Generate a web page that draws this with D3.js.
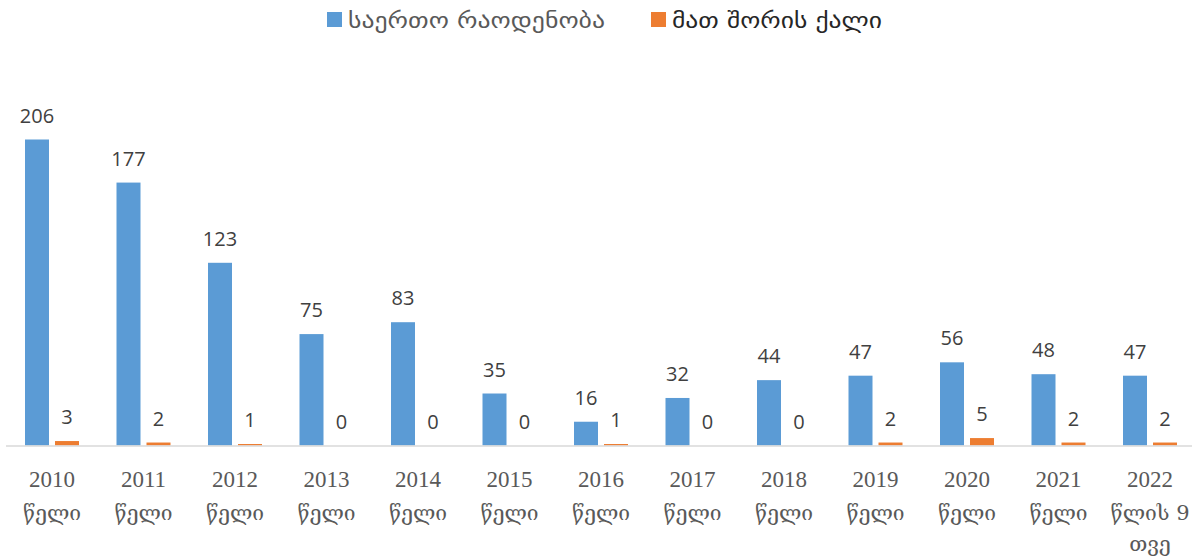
<!DOCTYPE html>
<html><head><meta charset="utf-8">
<script src="https://cdn.jsdelivr.net/npm/d3@7"></script>
<style>body{margin:0;background:#fff}svg{display:block}</style>
</head><body><svg id="c" width="1192" height="557"></svg>
<script>
const categories = ["2010","2011","2012","2013","2014","2015","2016","2017","2018","2019","2020","2021","2022"];
const catLine2 = ["წელი","წელი","წელი","წელი","წელი","წელი","წელი","წელი","წელი","წელი","წელი","წელი","წლის 9"];
const catLine3 = ["","","","","","","","","","","","","თვე"];
const totalValues = [206,177,123,75,83,35,16,32,44,47,56,48,47];
const womenValues = [3,2,1,0,0,0,1,0,0,2,5,2,2];
const seriesNames = ["საერთო რაოდენობა","მათ შორის ქალი"];
const colors = ["#5B9BD5","#ED7D31"];

const svg = d3.select("#c");
const x = d3.scaleBand().domain(categories).range([6.25, 1195.75]).paddingInner(0).paddingOuter(0);
const sub = d3.scaleBand().domain([0,1]).range([18.75, 91.5-18.75]).paddingInner(0.2);
const y = d3.scaleLinear().domain([0, 206]).range([445.5, 139.5]);

const series = [totalValues, womenValues];
series.forEach((vals, si) => {
  const g = svg.append("g");
  g.selectAll("rect").data(vals).enter().append("rect")
    .attr("x", (d,i) => x(categories[i]) + sub(si))
    .attr("width", sub.bandwidth())
    .attr("y", d => y(d))
    .attr("height", d => y(0) - y(d))
    .attr("fill", colors[si]);
  g.selectAll("text").data(vals).enter().append("text")
    .attr("x", (d,i) => x(categories[i]) + sub(si) + sub.bandwidth()/2)
    .attr("y", d => y(d) - 17)
    .attr("text-anchor", "middle")
    .attr("font-family", "'Open Sans', 'Noto Sans', sans-serif")
    .attr("font-size", 20)
    .attr("fill", "#404040")
    .text(d => d);
});

// axis line
svg.append("line").attr("x1", 6).attr("x2", 1192).attr("y1", y(0)+0.5).attr("y2", y(0)+0.5)
  .attr("stroke", "#D9D9D9").attr("stroke-width", 1.5);

const lab = svg.append("g").attr("font-family", "'Liberation Serif','DejaVu Serif',serif")
  .attr("fill", "#595959").attr("text-anchor", "middle");
categories.forEach((c,i) => {
  const cx = x(c) + x.bandwidth()/2;
  lab.append("text").attr("x", cx).attr("y", 487).attr("font-size", 23).text(c);
  lab.append("text").attr("x", cx).attr("y", 520).attr("font-family","'DejaVu Serif',serif").attr("font-size", 21).text(catLine2[i]);
  if (catLine3[i]) lab.append("text").attr("x", cx).attr("y", 551).attr("font-family","'DejaVu Serif',serif").attr("font-size", 21).text(catLine3[i]);
});

// legend
const leg = svg.append("g");
const legX = [327, 651];
const legW = [257, 210];
const legColors = ["#595959", "#262626"];
seriesNames.forEach((n, i) => {
  leg.append("rect").attr("x", legX[i]).attr("y", 12).attr("width", 15).attr("height", 15).attr("fill", colors[i]);
  leg.append("text").attr("x", legX[i] + (i === 0 ? 21 : 21)).attr("y", 28)
    .attr("font-family", "'DejaVu Sans', sans-serif").attr("font-size", 22)
    .attr("textLength", legW[i]).attr("lengthAdjust", "spacingAndGlyphs")
    .attr("fill", legColors[i]).text(n);
});
</script></body></html>
